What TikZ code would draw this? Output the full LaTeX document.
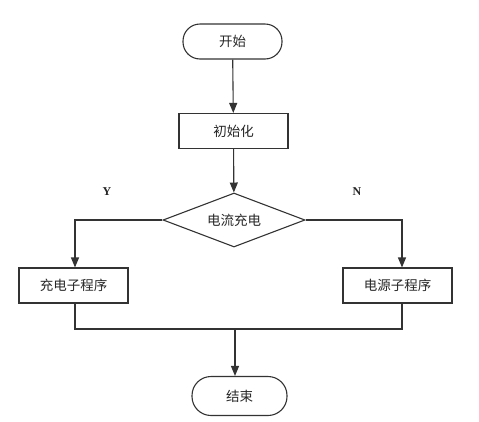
\documentclass[tikz,border=0pt]{standalone}
\usepackage{fontspec}
\newfontfamily\cjk{Noto Sans CJK SC}
\setmainfont{Liberation Serif}
\usetikzlibrary{shapes.geometric,arrows.meta}
\begin{document}
\begin{tikzpicture}[x=1pt,y=-1pt,
  line width=1.1pt,
  every node/.style={draw=black!80, line width=1.1pt, font=\cjk\fontsize{13.5}{15}\selectfont, text=black!85, inner sep=0pt},
  terminal/.style={rounded corners=17pt, minimum width=99pt, minimum height=35pt},
  procbox/.style={minimum width=109pt, minimum height=35pt},
  decision/.style={diamond, minimum width=142pt, minimum height=54pt, aspect=2.6},
  lbl/.style={draw=none, font=\bfseries\fontsize{12}{14}\selectfont},
  arr/.style={draw=black!80, -{Triangle[length=10pt,width=8pt]}},
  ln/.style={draw=black!80}]
\useasboundingbox (0,0) rectangle (479,421);
\node[terminal] (start) at (232.5,41.5) {开始};
\node[procbox] (init) at (233.5,131) {初始化};
\node[decision] (dec) at (234,220) {电流充电};
\node[procbox] (left) at (73.5,285.5) {充电子程序};
\node[procbox] (right) at (397.5,285.5) {电源子程序};
\node[terminal, minimum width=95pt, minimum height=39pt, rounded corners=19pt] (end) at (239.5,396) {结束};
\node[lbl] (y) at (107,192) {Y};
\node[lbl] (n) at (357,192) {N};
\coordinate (lc) at (75,220);
\coordinate (rc) at (402,220);
\coordinate (lb) at (75,329);
\coordinate (rb) at (402,329);
\coordinate (mb) at (235,329);
\draw[arr] (start) -- (init);
\draw[arr] (init) -- (dec);
\draw[arr] (dec.west) -- (lc) -- (lc |- left.north);
\draw[arr] (dec.east) -- (rc) -- (rc |- right.north);
\draw[ln] (lb |- left.south) -- (lb) -- (rb) -- (rb |- right.south);
\draw[arr] (mb) -- (mb |- end.north);
\end{tikzpicture}
\end{document}
